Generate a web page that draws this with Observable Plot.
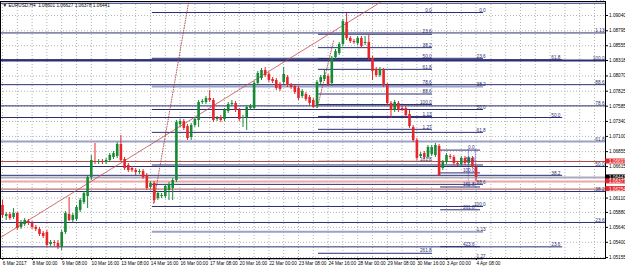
<!DOCTYPE html>
<html><head><meta charset="utf-8">
<script src="https://cdn.jsdelivr.net/npm/d3@7"></script>
<script src="https://cdn.jsdelivr.net/npm/@observablehq/plot@0.6"></script>
<style>
html,body{margin:0;padding:0;background:#fff;}
#chart svg{display:block;overflow:visible;}
</style>
</head><body><div id="chart"></div>
<script>
// ---- Candles (EURUSD, H4), bar index 0 = 6 Mar 2017 00:00 ----
const open = [1.05991,1.05814,1.05846,1.05798,1.05862,1.05638,1.05686,1.05734,1.05702,1.05638,
1.05606,1.05541,1.05557,1.05365,1.05397,1.05381,1.05317,1.05557,1.05846,1.05750,
1.05766,1.05911,1.06039,1.06135,1.06440,1.06697,1.06681,1.06697,1.06681,1.06713,
1.06761,1.06777,1.06970,1.06729,1.06633,1.06585,1.06553,1.06520,1.06536,1.06472,
1.06280,1.06344,1.06103,1.06135,1.06135,1.06232,1.06264,1.06392,1.07291,1.07339,
1.07259,1.07082,1.07275,1.07355,1.07644,1.07644,1.07708,1.07676,1.07371,1.07403,
1.07371,1.07499,1.07612,1.07628,1.07516,1.07387,1.07403,1.07548,1.07548,1.07949,
1.08029,1.08158,1.08093,1.08013,1.07997,1.07933,1.07965,1.08045,1.07917,1.07901,
1.07869,1.07740,1.07772,1.07724,1.07676,1.07580,1.07965,1.08013,1.08061,1.07949,
1.08366,1.08430,1.08575,1.08928,1.08671,1.08623,1.08591,1.08671,1.08591,1.08607,
1.08350,1.08174,1.08077,1.08158,1.07917,1.07628,1.07516,1.07628,1.07548,1.07548,
1.07451,1.07243,1.07034,1.06777,1.06825,1.06761,1.06809,1.06793,1.06938,1.06585,
1.06681,1.06777,1.06761,1.06665,1.06649,1.06745,1.06665,1.06745,1.06601];
const high = [1.06071,1.05878,1.05878,1.05943,1.05878,1.05750,1.05782,1.05766,1.05734,1.05670,
1.05638,1.05573,1.05590,1.05429,1.05429,1.05429,1.05590,1.05894,1.06119,1.05862,
1.05991,1.06103,1.06215,1.06472,1.06793,1.06986,1.06729,1.06729,1.06745,1.06825,
1.06857,1.07002,1.07114,1.06761,1.06665,1.06617,1.06585,1.06569,1.06569,1.06504,
1.06376,1.06376,1.06215,1.06183,1.06328,1.06360,1.06424,1.07355,1.07371,1.07371,
1.07291,1.07307,1.07403,1.07676,1.07692,1.07740,1.07837,1.07708,1.07419,1.07435,
1.07548,1.07644,1.07676,1.07660,1.07548,1.07435,1.07596,1.07612,1.07981,1.08141,
1.08190,1.08206,1.08125,1.08045,1.08029,1.07965,1.08206,1.08077,1.07949,1.07933,
1.07901,1.07853,1.07804,1.07756,1.07708,1.07997,1.08077,1.08158,1.08093,1.08382,
1.08495,1.08607,1.08976,1.09072,1.08703,1.08655,1.08703,1.08703,1.08703,1.08719,
1.08382,1.08206,1.08206,1.08190,1.07949,1.07660,1.07676,1.07660,1.07580,1.07580,
1.07516,1.07275,1.07066,1.06841,1.06857,1.06954,1.06954,1.06986,1.06970,1.06713,
1.06825,1.06809,1.06793,1.06697,1.06777,1.06777,1.06777,1.06777,1.06627];
const low = [1.05782,1.05750,1.05750,1.05766,1.05590,1.05606,1.05654,1.05670,1.05606,1.05573,
1.05493,1.05461,1.05317,1.05333,1.05333,1.05285,1.05269,1.05525,1.05734,1.05718,
1.05734,1.05878,1.06007,1.05943,1.06392,1.06649,1.06649,1.06649,1.06649,1.06681,
1.06729,1.06745,1.06697,1.06553,1.06520,1.06520,1.06472,1.06488,1.06408,1.06232,
1.06248,1.06023,1.06071,1.06103,1.06103,1.06071,1.06071,1.06360,1.07243,1.07195,
1.07034,1.07034,1.07243,1.07243,1.07612,1.07612,1.07644,1.07323,1.07339,1.07323,
1.07339,1.07467,1.07580,1.07483,1.07339,1.07243,1.07195,1.07516,1.07516,1.07917,
1.07997,1.08045,1.07965,1.07949,1.07837,1.07820,1.07933,1.07885,1.07853,1.07772,
1.07676,1.07708,1.07660,1.07596,1.07548,1.07548,1.07933,1.07981,1.07901,1.07901,
1.08334,1.08398,1.08543,1.08639,1.08591,1.08575,1.08559,1.08511,1.08559,1.08318,
1.07997,1.08045,1.08045,1.07885,1.07596,1.07387,1.07483,1.07483,1.07499,1.07403,
1.07227,1.07002,1.06713,1.06745,1.06729,1.06729,1.06777,1.06761,1.06456,1.06553,
1.06649,1.06729,1.06633,1.06617,1.06617,1.06633,1.06633,1.06585,1.06378];
const close = [1.05830,1.05846,1.05782,1.05862,1.05622,1.05702,1.05750,1.05702,1.05638,1.05606,
1.05525,1.05493,1.05349,1.05397,1.05381,1.05317,1.05557,1.05862,1.05750,1.05830,
1.05959,1.06071,1.06183,1.06440,1.06713,1.06681,1.06697,1.06681,1.06713,1.06793,
1.06825,1.06970,1.06713,1.06585,1.06553,1.06553,1.06520,1.06536,1.06440,1.06264,
1.06344,1.06071,1.06183,1.06151,1.06296,1.06328,1.06392,1.07323,1.07339,1.07227,
1.07066,1.07275,1.07371,1.07644,1.07660,1.07708,1.07676,1.07355,1.07387,1.07355,
1.07516,1.07612,1.07628,1.07516,1.07371,1.07403,1.07564,1.07580,1.07949,1.08109,
1.08158,1.08077,1.07997,1.07981,1.07869,1.07853,1.08093,1.07917,1.07885,1.07804,
1.07708,1.07820,1.07692,1.07628,1.07564,1.07965,1.08045,1.08077,1.07933,1.08350,
1.08462,1.08575,1.08944,1.08671,1.08623,1.08607,1.08671,1.08543,1.08607,1.08350,
1.08141,1.08077,1.08174,1.07917,1.07628,1.07516,1.07644,1.07516,1.07532,1.07435,
1.07259,1.07034,1.06745,1.06809,1.06761,1.06922,1.06922,1.06954,1.06472,1.06681,
1.06793,1.06761,1.06665,1.06649,1.06745,1.06665,1.06745,1.06601,1.06441];

// ---- Axes ----
const dateLabels = ["6 Mar 2017","8 Mar 00:00","9 Mar 08:00","10 Mar 16:00","13 Mar 08:00","14 Mar 16:00",
"16 Mar 00:00","17 Mar 08:00","20 Mar 16:00","22 Mar 00:00","23 Mar 08:00","24 Mar 16:00","28 Mar 00:00",
"29 Mar 08:00","30 Mar 16:00","3 Apr 00:00","4 Apr 08:00"];
const dateLabelBars = [0,8,16,24,32,40,48,56,64,72,80,88,96,104,112,120,128];
const priceTicks = [1.09040,1.08795,1.08555,1.08318,1.08070,1.07825,1.07585,1.07340,1.07100,
1.06855,1.06615,1.06370,1.06110,1.05880,1.05640,1.05400,1.05155];
const titleText = "\u25BC EURUSD,H4  1.06601 1.06627 1.06378 1.06441";

// ---- Fibonacci objects: anchor prices (0% and 100%), bar span, levels ----
const fibNames   = ["set1","set3","set2","setX","set4"];
const fibP0      = [1.04915, 1.03471, 1.09088, 1.09088, 1.06880];
const fibP100    = [1.08318, 1.11335, 1.05975, 1.07612, 1.06514];
const fibFrom    = [-0.6, -0.6, 40.5, 85.4, 118.4];
const fibTo      = [163.2, 151.4, 130.0, 116.2, 129.2];
const fibLabelAt = [162.7, 150.8, 130.6, 116.0, 127.6];
const set1Levels = [23.6,38.2,50,61.8,78.6,88.6,100,113,127];
const set3Levels = [23.6,38.2,50,61.8];
const set2Levels = [0,23.6,38.2,50,61.8,78.6,88.6,100,113,127];
const setXLevels = [0,23.6,38.2,50,61.8,78.6,88.6,100,113,127,161.8,261.8];
const set4Levels = [0,50,100,161.8,261.8,423.6];
const fibLevels  = [set1Levels,set3Levels,set2Levels,setXLevels,set4Levels];
const wideGray   = [["set1",61.8],["set2",38.2],["set2",113]];
const wideNavy   = [["set1",100]];
const unlabelled = [["set2",78.6]];

// ---- Other lines ----
const trendBars   = [-0.54, 102.05];
const trendPrices = [1.05477, 1.09249];
const dotBars1    = [40.8, 50.3];
const dotPrices1  = [1.06023, 1.09249];
const dotBars2    = [85.1, 89.5];
const dotPrices2  = [1.07564, 1.08639];
const alertPrices = [1.06697, 1.06377, 1.06254];
const alertTexts  = ["1.06697","1.06377","1.06254"];
const bidPrice    = 1.06441;
const bidText     = "1.06441";
const set4Verticals = [125.9, 127.8];

// ---- Build tables ----
const bars = open.map((o,i)=>({i, open:o, high:high[i], low:low[i], close:close[i]}));
const bull = "#178a36", bear = "#e6262b", navy = "#2b2f72";
const lvlText = r => r === 113 ? "1.13" : r === 127 ? "1.27" : r.toFixed(1);
const fibRows = [];
fibNames.forEach((n,k)=>{
  fibLevels[k].forEach(r=>{
    fibRows.push({set:n, r, price: fibP0[k] + r/100*(fibP100[k]-fibP0[k]),
      x1: fibFrom[k], x2: fibTo[k], labelAt: fibLabelAt[k], label: lvlText(r)});
  });
});
const isIn = (list,d)=>list.some(([n,r])=>n===d.set && r===d.r);
const normalRows = fibRows.filter(d=>!isIn(wideGray,d) && !isIn(wideNavy,d));
const grayRows = fibRows.filter(d=>isIn(wideGray,d));
const navyRows = fibRows.filter(d=>isIn(wideNavy,d));
const labelRows = fibRows.filter(d=>!isIn(unlabelled,d));
const set4Row0 = fibRows.find(d=>d.set==="set4" && d.r===0).price;
const set4Row1 = fibRows.find(d=>d.set==="set4" && d.r===161.8).price;
const boxes = [
  {price: alertPrices[0], text: alertTexts[0], color: bear},
  {price: bidPrice, text: bidText, color: "#000000"},
  {price: alertPrices[1], text: alertTexts[1], color: bear},
  {price: alertPrices[2], text: alertTexts[2], color: bear}
];
const labMap = new Map(dateLabelBars.map((b,i)=>[b,dateLabels[i]]));
const gridBars = d3.range(0, 163, 4);
const trend = trendBars.map((b,i)=>({b, p: trendPrices[i]}));
const dot1 = dotBars1.map((b,i)=>({b, p: dotPrices1[i]}));
const dot2 = dotBars2.map((b,i)=>({b, p: dotPrices2[i]}));

const fs = 4.7;
const chart = Plot.plot({
  width: 625, height: 269,
  marginLeft: 0, marginRight: 20, marginTop: 1, marginBottom: 11,
  x: {domain: [-0.5405, 162.973], axis: null},
  y: {domain: [1.05140, 1.09265], axis: null},
  color: {type: "identity"},
  style: {fontFamily: "'Liberation Sans', Arial, sans-serif", fontSize: fs + "px", background: "#fff", color: "#000"},
  marks: [
    Plot.ruleY(priceTicks, {stroke: "#b4b4b4", strokeDasharray: "1,2"}),
    Plot.ruleX(gridBars, {stroke: "#b4b4b4", strokeDasharray: "1,2"}),
    Plot.ruleY(grayRows, {y: "price", x1: "x1", x2: "x2", stroke: "#9ca1c6", strokeWidth: 2}),
    Plot.ruleY(normalRows, {y: "price", x1: "x1", x2: "x2", stroke: navy, strokeWidth: 1}),
    Plot.ruleY(navyRows, {y: "price", x1: "x1", x2: "x2", stroke: navy, strokeWidth: 2}),
    Plot.ruleX(set4Verticals, {y1: set4Row0, y2: set4Row1, stroke: "#2b44c8", strokeDasharray: "1,1"}),
    Plot.ruleY([alertPrices[0], alertPrices[2]], {stroke: "#b04a4a", strokeWidth: 1}),
    Plot.ruleY([alertPrices[1]], {stroke: "#f0a8a8", strokeWidth: 2}),
    Plot.ruleY([bidPrice], {stroke: "#a9abbb", strokeWidth: 2}),
    Plot.line(trend, {x: "b", y: "p", stroke: "#c84a4a", strokeWidth: 0.8}),
    Plot.line(dot1, {x: "b", y: "p", stroke: "#a83a3a", strokeWidth: 0.8, strokeDasharray: "1,1.5"}),
    Plot.line(dot2, {x: "b", y: "p", stroke: "#a83a3a", strokeWidth: 0.8, strokeDasharray: "1,1.5"}),
    Plot.ruleX(bars, {x: "i", y1: "low", y2: "high", stroke: d => d.close >= d.open ? bull : bear, strokeWidth: 1}),
    Plot.ruleX(bars, {x: "i", y1: "open", y2: "close", stroke: d => d.close >= d.open ? bull : bear, strokeWidth: 2.6}),
    Plot.text(labelRows, {x: "labelAt", y: "price", text: "label", textAnchor: "end", dy: -2.3, fill: navy, fontSize: fs}),
    Plot.frame({stroke: "#000"}),
    Plot.axisY(priceTicks, {anchor: "right", tickSize: 2, tickPadding: 1.5, tickFormat: d3.format(".5f"), fontSize: fs}),
    Plot.axisX(dateLabelBars, {anchor: "bottom", tickSize: 2, tickPadding: 1, tickFormat: d => labMap.get(d), textAnchor: "start", dx: 0.3, fontSize: fs}),
    Plot.rect(boxes, {x1: 163.05, x2: 169.5, y1: d => d.price - 0.0004, y2: d => d.price + 0.0004, fill: "color"}),
    Plot.text(boxes, {x: 163.9, y: "price", text: "text", fill: "#fff", textAnchor: "start", fontSize: fs}),
    Plot.text([titleText], {frameAnchor: "top-left", dx: 2, dy: 2.5, textAnchor: "start", lineAnchor: "top", fontSize: fs, fill: "#000"})
  ]
});
document.getElementById("chart").appendChild(chart);
</script>
</body></html>
